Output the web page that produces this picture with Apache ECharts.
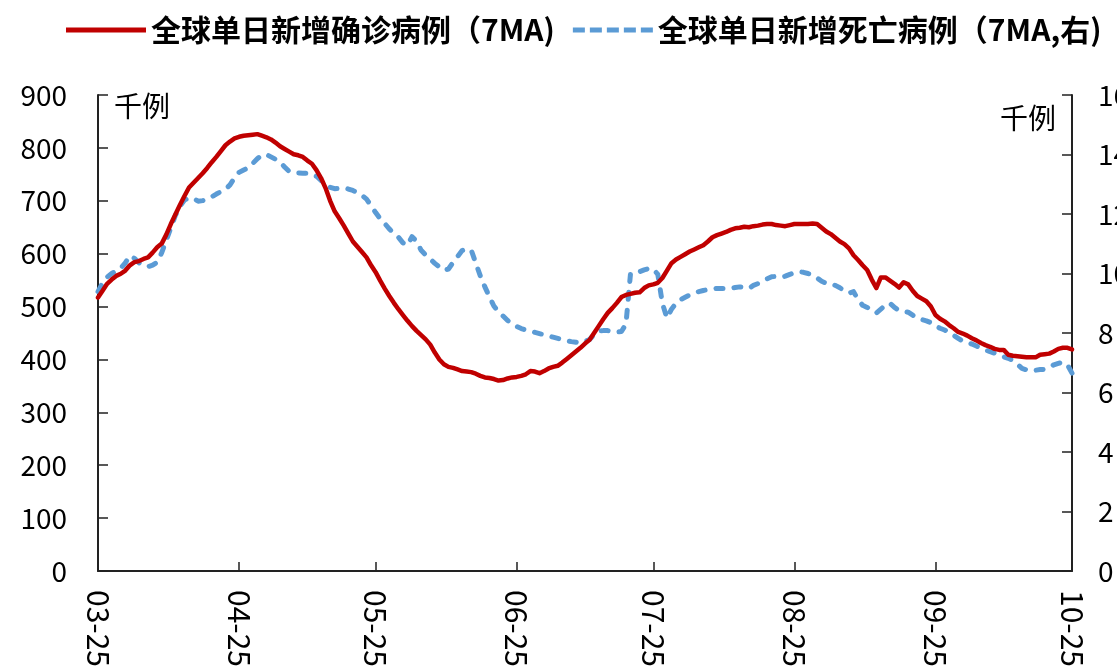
<!DOCTYPE html>
<html>
<head>
<meta charset="utf-8">
<script src="https://cdn.jsdelivr.net/npm/echarts@6/dist/echarts.min.js"></script>
<style>
  html, body { margin: 0; padding: 0; background: #fff; }
  #chart { width: 1117px; height: 667px; }
</style>
</head>
<body>
<div id="chart"></div>
<script>
// 日期：2021-03-25 ~ 2021-10-25，每日一个点
var startDate = Date.UTC(2021, 2, 25);
var dayCount = 215;
var tickLabels = ["03-25", "04-25", "05-25", "06-25", "07-25", "08-25", "09-25", "10-25"];

// 全球单日新增确诊（7MA，千例，左轴）
var casesData = [
  517, 530, 543, 551, 558, 562, 568, 578, 584, 586,
  590, 593, 602, 612, 619, 636, 656, 674, 692, 709,
  725, 734, 743, 752, 762, 773, 783, 794, 805, 812,
  818, 821, 823, 824, 825, 826, 823, 820, 816, 810,
  803, 798, 793, 788, 786, 783, 776, 770, 758, 743,
  724, 700, 680, 667, 653, 638, 623, 613, 603, 593,
  578, 565, 549, 534, 520, 507, 495, 484, 473, 463,
  454, 446, 438, 428, 413, 400, 391, 386, 384, 381,
  378, 377, 376, 373, 369, 366, 365, 363, 360, 361,
  364, 366, 367, 369, 372, 378, 377, 374, 378, 383,
  386, 388, 394, 401, 408, 415, 422, 430, 437, 450,
  463, 476, 488, 497, 507, 518, 522, 524, 526, 527,
  535, 540, 542, 545, 554, 568, 582, 589, 594, 599,
  604, 608, 612, 616, 623, 631, 635, 638, 641, 645,
  648, 649, 651, 650, 652, 653, 655, 656, 656, 654,
  653, 652, 654, 656, 656, 656, 656, 657, 656, 649,
  642, 637, 630, 623, 618, 610, 597, 588, 578, 569,
  551, 535, 555, 555, 549, 543, 536, 546, 542, 530,
  520, 515, 510, 500, 484, 477, 472, 465, 459, 452,
  449, 445, 440, 436, 431, 427, 424, 420, 418, 418,
  409, 407, 406, 405, 404, 404, 404, 409, 410, 411,
  415, 420, 422, 422, 419
];

// 全球单日新增死亡（7MA，千例，右轴）
var deathsData = [
  9.39, 9.68, 9.88, 10.00, 10.08, 10.18, 10.36, 10.60, 10.51, 10.36,
  10.26, 10.23, 10.28, 10.38, 10.70, 11.12, 11.53, 11.95, 12.26, 12.47,
  12.54, 12.52, 12.43, 12.45, 12.50, 12.58, 12.67, 12.75, 12.83, 12.98,
  13.22, 13.40, 13.48, 13.55, 13.70, 13.86, 13.98, 14.00, 13.92, 13.84,
  13.75, 13.58, 13.43, 13.40, 13.38, 13.37, 13.37, 13.34, 13.27, 13.13,
  12.99, 12.90, 12.85, 12.86, 12.88, 12.84, 12.79, 12.72, 12.63, 12.50,
  12.28, 12.05, 11.84, 11.68, 11.50, 11.35, 11.22, 11.03, 10.95, 11.24,
  11.08, 10.78, 10.62, 10.49, 10.34, 10.22, 10.10, 10.15, 10.37, 10.57,
  10.77, 10.82, 10.79, 10.35, 9.92, 9.55, 9.22, 8.90, 8.72, 8.57,
  8.42, 8.30, 8.22, 8.15, 8.10, 8.06, 8.02, 7.98, 7.94, 7.90,
  7.86, 7.82, 7.78, 7.74, 7.71, 7.69, 7.67, 7.72, 7.78, 7.95,
  8.07, 8.08, 8.08, 8.06, 8.03, 8.05, 8.30, 10.00, 10.03, 10.06,
  10.12, 10.17, 10.15, 9.97, 9.00, 8.50, 8.80, 9.00, 9.12, 9.20,
  9.28, 9.34, 9.39, 9.43, 9.46, 9.48, 9.50, 9.50, 9.50, 9.51,
  9.53, 9.55, 9.53, 9.50, 9.60, 9.66, 9.74, 9.82, 9.89, 9.90,
  9.87, 9.91, 9.97, 10.02, 10.06, 10.04, 10.00, 9.94, 9.85, 9.74,
  9.67, 9.66, 9.60, 9.52, 9.42, 9.34, 9.39, 9.12, 8.93, 8.86,
  8.78, 8.67, 8.80, 8.94, 9.00, 8.86, 8.76, 8.73, 8.70, 8.60,
  8.50, 8.45, 8.41, 8.35, 8.24, 8.16, 8.10, 8.02, 7.92, 7.82,
  7.72, 7.67, 7.63, 7.56, 7.49, 7.43, 7.37, 7.32, 7.27, 7.20,
  7.15, 7.08, 6.95, 6.81, 6.76, 6.72, 6.75, 6.77, 6.78, 6.85,
  6.93, 6.98, 7.02, 6.93, 6.65
];

var categories = [];
for (var i = 0; i < dayCount; i++) {
  var d = new Date(startDate + i * 86400000);
  var mm = ("0" + (d.getUTCMonth() + 1)).slice(-2);
  var dd = ("0" + d.getUTCDate()).slice(-2);
  categories.push(mm + "-" + dd);
}

var FONT = "Noto Sans CJK SC";
var RED = "#C00000";
var BLUE = "#5B9BD5";
// 只在每月25日显示刻度和标签
var showTick = function (idx, val) { return tickLabels.indexOf(val) >= 0; };

// 图例图标：实线 / 虚线
var solidIcon = "path://M0,0H80V5H0Z";
var dashIcon = "path://M0,0H12V5H0Z M17,0H29V5H17Z M34,0H46V5H34Z M51,0H63V5H51Z M68,0H80V5H68Z";

var chart = echarts.init(document.getElementById("chart"));
chart.setOption({
  animation: false,
  textStyle: { fontFamily: FONT },
  legend: {
    left: 66,
    top: 15,
    width: 1100,
    padding: 0,
    itemWidth: 80,
    itemHeight: 5,
    itemGap: 18,
    selectedMode: false,
    itemStyle: { borderWidth: 0 },
    textStyle: { fontSize: 30, color: "#000", fontWeight: "bold", fontFamily: FONT },
    data: [
      { name: "全球单日新增确诊病例（7MA)", icon: solidIcon },
      { name: "全球单日新增死亡病例（7MA,右)", icon: dashIcon }
    ]
  },
  grid: { left: 98, right: 45, top: 95, bottom: 96, outerBoundsMode: "none", containLabel: false },
  xAxis: {
    type: "category",
    data: categories,
    boundaryGap: false,
    axisLine: { lineStyle: { color: "#222", width: 2 } },
    axisTick: { inside: true, length: 9, interval: showTick, lineStyle: { color: "#222", width: 1.5 } },
    axisLabel: {
      interval: showTick,
      rotate: -90,
      margin: 19,
      fontSize: 30,
      color: "#000",
      fontFamily: FONT
    },
    splitLine: { show: false }
  },
  yAxis: [
    {
      type: "value",
      min: 0,
      max: 900,
      interval: 100,
      axisLine: { show: true, lineStyle: { color: "#222", width: 2 } },
      axisTick: { show: true, inside: true, length: 10, lineStyle: { color: "#222", width: 1.5 } },
      axisLabel: { fontSize: 28, color: "#000", margin: 31, fontFamily: FONT },
      splitLine: { show: false }
    },
    {
      type: "value",
      min: 0,
      max: 16,
      interval: 2,
      position: "right",
      axisLine: { show: true, lineStyle: { color: "#222", width: 2 } },
      axisTick: { show: true, inside: true, length: 10, lineStyle: { color: "#222", width: 1.5 } },
      axisLabel: { fontSize: 28, color: "#000", margin: 26, fontFamily: FONT },
      splitLine: { show: false }
    }
  ],
  graphic: [
    { type: "text", left: 114, top: 92, style: { text: "千例", fontSize: 28, fill: "#000", fontFamily: FONT } },
    { type: "text", left: 1000, top: 104, style: { text: "千例", fontSize: 28, fill: "#000", fontFamily: FONT } }
  ],
  series: [
    {
      name: "全球单日新增确诊病例（7MA)",
      type: "line",
      data: casesData,
      yAxisIndex: 0,
      showSymbol: false,
      symbol: "none",
      z: 3,
      lineStyle: { color: RED, width: 4.5, cap: "round", join: "round" },
      itemStyle: { color: RED, borderWidth: 0 }
    },
    {
      name: "全球单日新增死亡病例（7MA,右)",
      type: "line",
      data: deathsData,
      yAxisIndex: 1,
      showSymbol: false,
      symbol: "none",
      z: 2,
      lineStyle: { color: BLUE, width: 5, type: [7, 11], cap: "round", join: "round" },
      itemStyle: { color: BLUE, borderWidth: 0 }
    }
  ]
});
</script>
</body>
</html>
